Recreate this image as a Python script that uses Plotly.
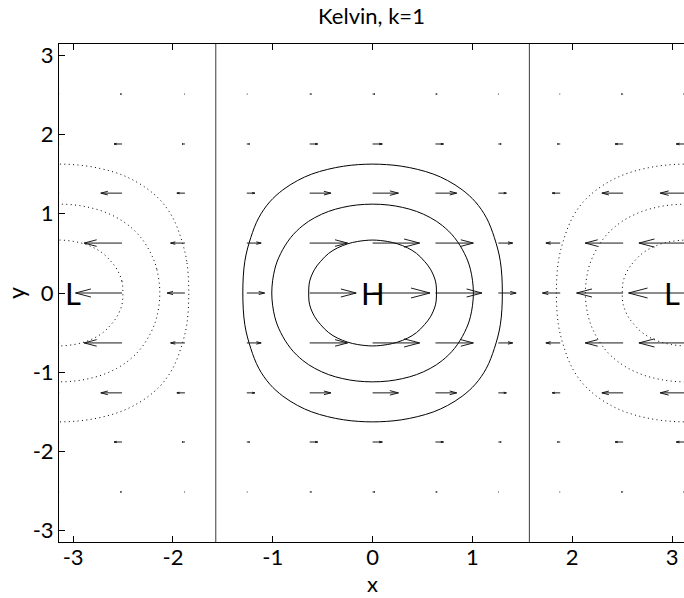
import plotly.graph_objects as go

# ---- axes and annotations -------------------------------------------------
TITLE = "Kelvin, k=1"
X_TICKS = [-3, -2, -1, 0, 1, 2, 3]
X_TICK_TEXT = ["-3", "-2", "-1", "0", "1", "2", "3"]
Y_TICKS = [-3, -2, -1, 0, 1, 2, 3]
Y_TICK_TEXT = ["-3", "-2", "-1", "0", "1", "2", "3"]
X_RANGE = [-3.1416, 3.12]
Y_RANGE = [-3.1416, 3.1416]
DIVIDERS_X = [-1.5708, 1.5708]          # x = -pi/2, +pi/2

CENTRE_LABELS = ["L", "H", "L"]
CENTRE_X = [-3.0, 0.0, 3.0]
CENTRE_Y = [0.0, 0.0, 0.0]

# ---- velocity field (u only, v = 0) on the quiver grid ----------------------
GRID_X = [-3.14, -2.51, -1.88, -1.26, -0.63, 0.0, 0.63, 1.26, 1.88, 2.51, 3.14]
GRID_Y = [2.51, 1.88, 1.26, 0.63, 0.0, -0.63, -1.26, -1.88, -2.51]
U_ROWS = [
    [-0.04, -0.03, -0.01, 0.01, 0.03, 0.04, 0.03, 0.01, -0.01, -0.03, -0.04],
    [-0.17, -0.14, -0.05, 0.05, 0.14, 0.17, 0.14, 0.05, -0.05, -0.14, -0.17],
    [-0.45, -0.37, -0.14, 0.14, 0.37, 0.45, 0.37, 0.14, -0.14, -0.37, -0.45],
    [-0.82, -0.66, -0.25, 0.25, 0.66, 0.82, 0.66, 0.25, -0.25, -0.66, -0.82],
    [-1.00, -0.81, -0.31, 0.31, 0.81, 1.00, 0.81, 0.31, -0.31, -0.81, -1.00],
    [-0.82, -0.66, -0.25, 0.25, 0.66, 0.82, 0.66, 0.25, -0.25, -0.66, -0.82],
    [-0.45, -0.37, -0.14, 0.14, 0.37, 0.45, 0.37, 0.14, -0.14, -0.37, -0.45],
    [-0.17, -0.14, -0.05, 0.05, 0.14, 0.17, 0.14, 0.05, -0.05, -0.14, -0.17],
    [-0.04, -0.03, -0.01, 0.01, 0.03, 0.04, 0.03, 0.01, -0.01, -0.03, -0.04],
]
ARROW_SCALE = 0.575     # x-units of arrow per unit of u
HEAD_BACK = 0.33        # head length as fraction of arrow
HEAD_SPREAD = 0.33      # head half-width as fraction of head length

# ---- pressure contours: one quadrant (half-width x at height y) -------------
INNER_Y = [0.0, 0.15, 0.30, 0.40, 0.50, 0.57, 0.62, 0.65, 0.668]
INNER_X = [0.64, 0.63, 0.58, 0.52, 0.44, 0.35, 0.25, 0.15, 0.0]
MIDDLE_Y = [0.0, 0.30, 0.50, 0.70, 0.85, 0.95, 1.03, 1.08, 1.11, 1.121]
MIDDLE_X = [1.01, 0.98, 0.92, 0.82, 0.70, 0.58, 0.44, 0.30, 0.16, 0.0]
OUTER_Y = [0.0, 0.40, 0.70, 0.95, 1.15, 1.30, 1.42, 1.50, 1.56, 1.60, 1.62, 1.626]
OUTER_X = [1.30, 1.28, 1.22, 1.14, 1.03, 0.90, 0.75, 0.61, 0.45, 0.29, 0.14, 0.0]
HIGH_CENTRES = [0.0]
LOW_CENTRES = [-3.1416, 3.1416]

FONT = "Lato"
INK = "black"


def closed_loop(qx, qy, cx):
    """Mirror a first-quadrant outline into a closed curve centred at (cx, 0)."""
    q1 = list(zip(qx, qy))
    q2 = [(-x, y) for x, y in reversed(q1)][1:]
    q3 = [(-x, -y) for x, y in q1][1:]
    q4 = [(x, -y) for x, y in reversed(q1)][1:]
    pts = q1 + q2 + q3 + q4
    return [cx + p[0] for p in pts], [p[1] for p in pts]


fig = go.Figure()

# dividing lines at +-pi/2
for xv in DIVIDERS_X:
    fig.add_trace(go.Scatter(x=[xv, xv], y=Y_RANGE, mode="lines",
                             line=dict(color="#3a3a3a", width=1),
                             hoverinfo="skip"))

# contours: solid around the high, dotted around the lows
outlines = [(INNER_X, INNER_Y), (MIDDLE_X, MIDDLE_Y), (OUTER_X, OUTER_Y)]
for centres, dash in ((HIGH_CENTRES, "solid"), (LOW_CENTRES, "1px,3.4px")):
    for cx in centres:
        for qx, qy in outlines:
            xs, ys = closed_loop(qx, qy, cx)
            fig.add_trace(go.Scatter(
                x=xs, y=ys, mode="lines",
                line=dict(color=INK, width=1, dash=dash,
                          shape="spline", smoothing=1.0),
                hoverinfo="skip"))

# quiver arrows: shafts plus open arrow heads
ax, ay = [], []
for yv, row in zip(GRID_Y, U_ROWS):
    for xv, u in zip(GRID_X, row):
        L = u * ARROW_SCALE
        tip = xv + L
        back = tip - HEAD_BACK * L
        w = HEAD_SPREAD * HEAD_BACK * abs(L)
        ax += [xv, tip, None, back, tip, back, None]
        ay += [yv, yv, None, yv + w, yv, yv - w, None]
fig.add_trace(go.Scatter(x=ax, y=ay, mode="lines",
                         line=dict(color="#1a1a1a", width=1),
                         hoverinfo="skip"))

# H / L markers
for txt, xv, yv in zip(CENTRE_LABELS, CENTRE_X, CENTRE_Y):
    fig.add_annotation(x=xv, y=yv, xref="x", yref="y", text=txt,
                       showarrow=False, xanchor="center", yanchor="middle",
                       font=dict(family=FONT, size=31, color=INK))

# axis labels
fig.add_annotation(x=0, y=0, xref="x", yref="paper", text="x",
                   showarrow=False, yanchor="bottom", yshift=-56,
                   borderpad=0,
                   font=dict(family=FONT, size=22, color=INK))
fig.add_annotation(x=0, y=0, xref="paper", yref="y", text="y",
                   showarrow=False, xanchor="center", xshift=-43,
                   textangle=-90, borderpad=0,
                   font=dict(family=FONT, size=23, color=INK))

fig.update_layout(
    width=684, height=598,
    margin=dict(l=59, r=0, t=44, b=56),
    plot_bgcolor="white", paper_bgcolor="white",
    showlegend=False,
    font=dict(family=FONT, size=22, color=INK),
    title=dict(text=TITLE, x=0.5, xref="paper", xanchor="center",
               y=1 - 16 / 598, yref="container", yanchor="middle",
               font=dict(family=FONT, size=22, color=INK)),
    xaxis=dict(range=X_RANGE, tickmode="array", tickvals=X_TICKS,
               ticktext=X_TICK_TEXT,
               ticks="inside", ticklen=6, tickcolor=INK, tickwidth=1,
               showline=True, linecolor=INK, linewidth=1, mirror="ticks",
               showgrid=False, zeroline=False, ticklabelstandoff=-4),
    yaxis=dict(range=Y_RANGE, tickmode="array", tickvals=Y_TICKS,
               ticktext=Y_TICK_TEXT,
               ticks="inside", ticklen=6, tickcolor=INK, tickwidth=1,
               showline=True, linecolor=INK, linewidth=1, mirror=False,
               showgrid=False, zeroline=False, ticklabelstandoff=0),
)

fig.write_html("out.html")
